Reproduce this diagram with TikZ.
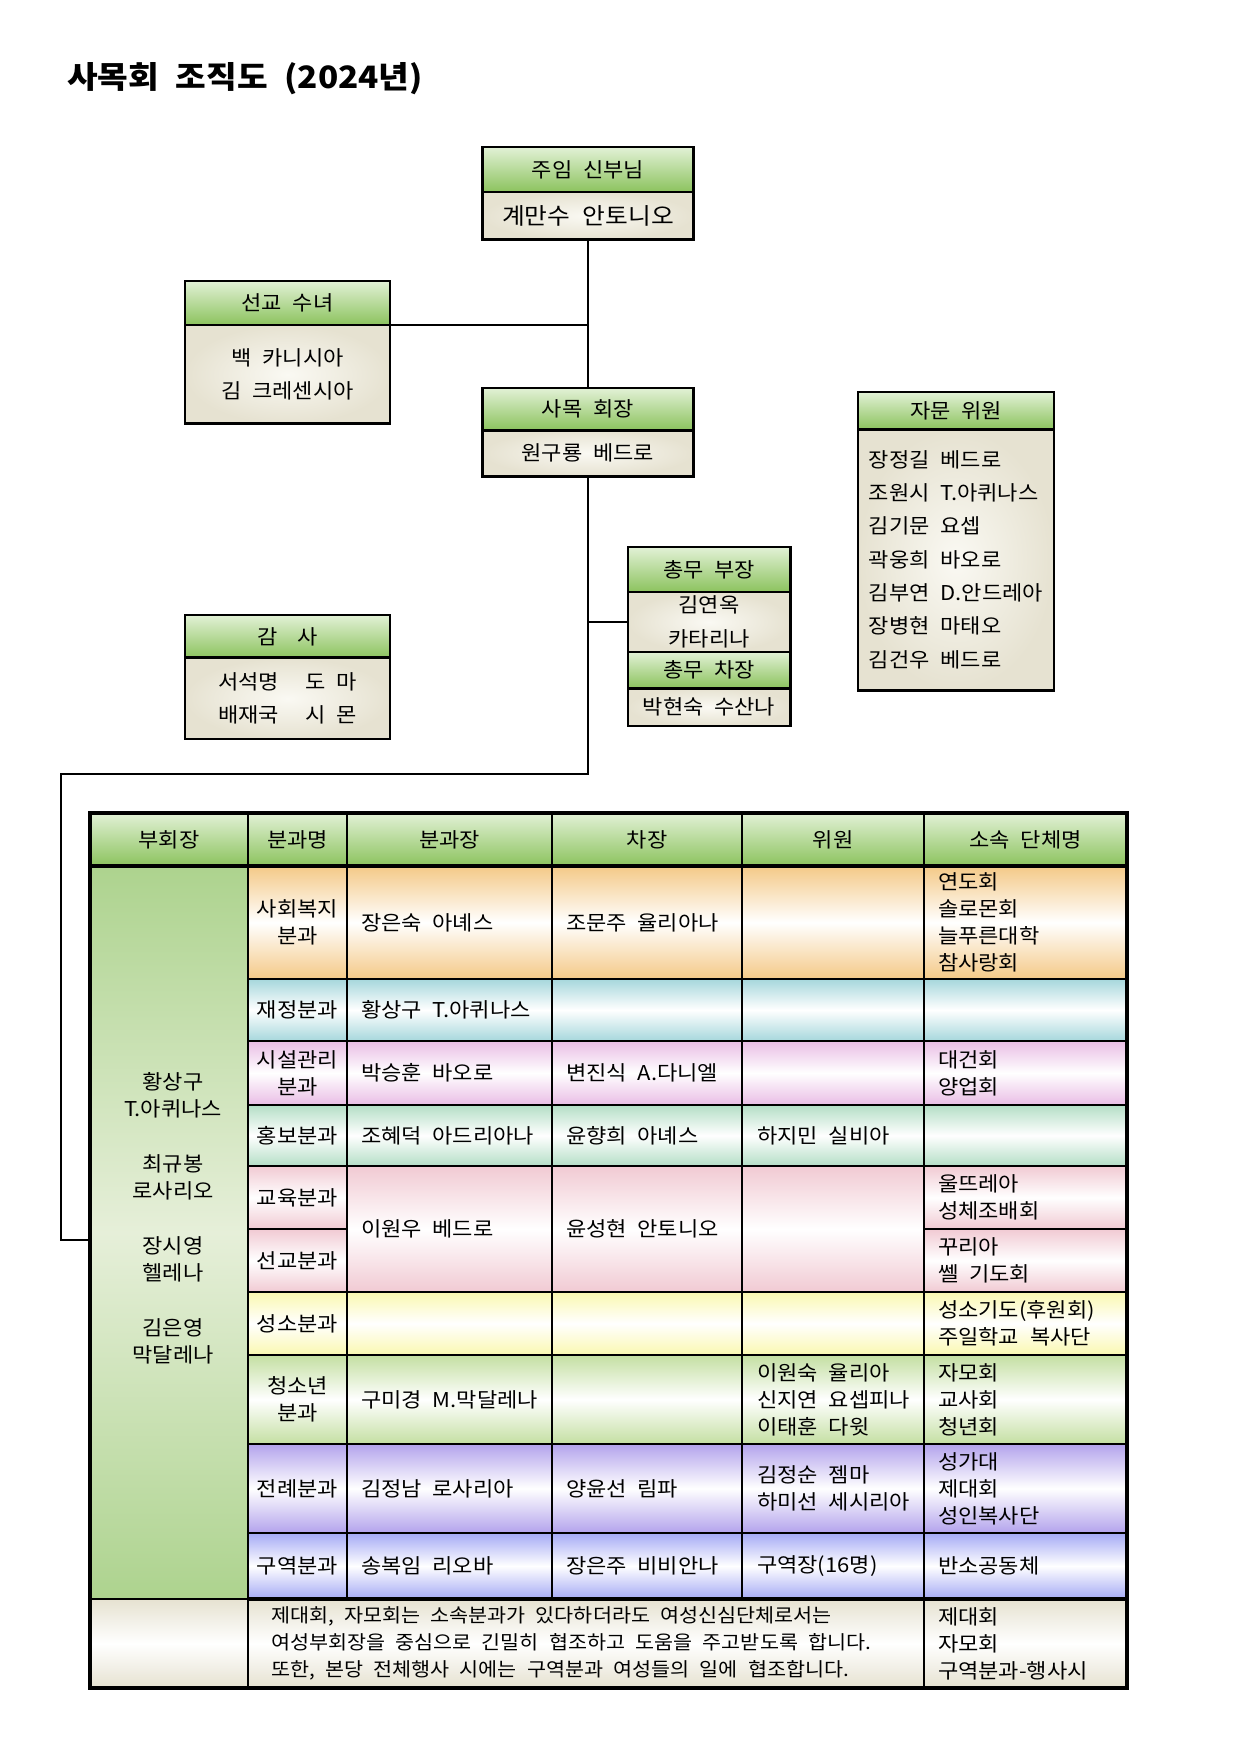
\documentclass[tikz,border=0pt]{standalone}
\usepackage{fontspec}
\setmainfont{Noto Sans CJK KR}[FakeStretch=1.08, WordSpace=2.2]
\usetikzlibrary{chains,positioning}

\definecolor{headtop}{HTML}{E2F1D6}
\definecolor{headbot}{HTML}{8CC35E}
\definecolor{paper}{HTML}{E6E2D1}
\definecolor{paperlight}{HTML}{FAF9F3}
\definecolor{orangerow}{HTML}{F4C987}
\definecolor{cyanrow}{HTML}{A6D7DC}
\definecolor{mauverow}{HTML}{E9BDE5}
\definecolor{mintrow}{HTML}{B4DEC6}
\definecolor{pinkrow}{HTML}{F1CAD3}
\definecolor{yellowrow}{HTML}{FAF8B0}
\definecolor{greenrow}{HTML}{C4DFA2}
\definecolor{purplerow}{HTML}{B3A3EC}
\definecolor{bluerow}{HTML}{A5AAF5}
\definecolor{vicetop}{HTML}{ADD38E}
\definecolor{vicemid}{HTML}{E6EFD9}

\begin{document}
\begin{tikzpicture}[x=0.48pt,y=-0.48pt,node distance=0pt]
\useasboundingbox (0,0) rectangle (1240,1754);
\tikzset{every node/.style={font=\fontsize{9.8}{13}\selectfont, inner sep=1pt, outer sep=0pt},
boxhead/.style={on chain, draw, line width=1.4pt, top color=headtop, bottom color=headbot},
boxbody/.style={on chain, draw, line width=1.4pt, inner color=paperlight, outer color=paper,
align=center, font=\fontsize{9.8}{16}\selectfont},
link/.style={line width=1.4pt},
cell/.style={draw, line width=1.1pt, top color=#1, bottom color=#1, middle color=white},
item/.style={anchor=west, align=left, inner sep=0pt},
mid/.style={align=center, inner sep=0pt}}

\node[anchor=west, font=\fontsize{14.8}{18}\selectfont\bfseries] (Title) at (65,79) {사목회 조직도 (2024년)};

% boxes
\begin{scope}[start chain=going below]
\node[boxhead, anchor=north, minimum width=101.3pt, minimum height=21.6pt] (Pastor head) at (588,147) {주임 신부님};
\node[boxbody, minimum width=101.3pt, minimum height=23pt, font=\fontsize{11}{13}\selectfont] (Pastor body) {계만수 안토니오};
\end{scope}
\begin{scope}[start chain=going below]
\node[boxhead, anchor=north, minimum width=98.4pt, minimum height=21.1pt] (Sister head) at (287.5,281) {선교 수녀};
\node[boxbody, minimum width=98.4pt, minimum height=47.5pt] (Sister body) {백 카니시아\\김 크레센시아};
\end{scope}
\begin{scope}[start chain=going below]
\node[boxhead, anchor=north, minimum width=101.3pt, minimum height=20.2pt] (President head) at (588,388) {사목 회장};
\node[boxbody, minimum width=101.3pt, minimum height=22.1pt] (President body) {원구룡 베드로};
\end{scope}
\begin{scope}[start chain=going below]
\node[boxhead, anchor=north, minimum width=94.1pt, minimum height=17.8pt] (Advisors head) at (956,392) {자문 위원};
\node[boxbody, align=left, minimum width=94.1pt, minimum height=125.3pt] (Advisors body) {장정길 베드로\\조원시 T.아퀴나스\\김기문 요셉\\곽웅희 바오로\\김부연 D.안드레아\\장병현 마태오\\김건우 베드로};
\end{scope}
\begin{scope}[start chain=going below]
\node[boxhead, anchor=north, minimum width=77.8pt, minimum height=21.6pt] (Chongmu head) at (709,547) {총무 부장};
\node[boxbody, minimum width=77.8pt, minimum height=28.8pt] (Chongmu body) {김연옥\\카타리나};
\node[boxhead, minimum width=77.8pt, minimum height=17.3pt] (Chongmu head2) {총무 차장};
\node[boxbody, minimum width=77.8pt, minimum height=18.2pt] (Chongmu body2) {박현숙 수산나};
\end{scope}
\begin{scope}[start chain=going below]
\node[boxhead, anchor=north, minimum width=98.4pt, minimum height=20.6pt] (Audit head) at (287.5,615) {감\quad 사};
\node[boxbody, minimum width=98.4pt, minimum height=38.9pt] (Audit body) {서석명\hspace{1.3em}도\enspace 마\\배재국\hspace{1.3em}시\enspace 몬};
\end{scope}

% table
\path[draw, line width=1.1pt, top color=headtop, bottom color=headbot] (90,813) rectangle (1127,866);
\path[cell=orangerow] (248,866) rectangle (1127,979);
\path[cell=cyanrow] (248,979) rectangle (1127,1041);
\path[cell=mauverow] (248,1041) rectangle (1127,1105);
\path[cell=mintrow] (248,1105) rectangle (1127,1166);
\path[cell=pinkrow] (248,1166) rectangle (347,1229) (924,1166) rectangle (1127,1229);
\path[cell=pinkrow] (248,1229) rectangle (347,1292) (924,1229) rectangle (1127,1292);
\path[cell=pinkrow] (347,1166) rectangle (924,1292);
\path[cell=yellowrow] (248,1292) rectangle (1127,1355);
\path[cell=greenrow] (248,1355) rectangle (1127,1444);
\path[cell=purplerow] (248,1444) rectangle (1127,1533);
\path[cell=bluerow] (248,1533) rectangle (1127,1599);
\path[cell=paper] (90,1599) rectangle (1127,1688);
\node[draw, line width=1.1pt, top color=vicetop, bottom color=vicetop, middle color=vicemid,
minimum width=75.84pt, minimum height=351.84pt] (Vice column) at (169,1232.5) {};
\draw[line width=1.1pt] (248,813) -- (248,1688) (347,813) -- (347,1599) (924,813) -- (924,1688)
(552,813) -- (552,1599) (742,813) -- (742,1599);
\draw[line width=1.5pt] (90,866) -- (1127,866) (248,1599) -- (1127,1599);
\draw[line width=1.5pt] (90,813) rectangle (1127,1688);

% header row
\node (Vice title) at (169,839.5) {부회장};
\node (Dept title) at (297.5,839.5) {분과명};
\node (Chief title) at (449.5,839.5) {분과장};
\node (Deputy title) at (647,839.5) {차장};
\node (Member title) at (833,839.5) {위원};
\node (Groups title) at (1025.5,839.5) {소속 단체명};

\node[mid] (Vice names) at (173,1218.5) {황상구\\T.아퀴나스\\[13.4pt]최규봉\\로사리오\\[13.4pt]장시영\\헬레나\\[13.4pt]김은영\\막달레나};

% departments
\node[mid] (Welfare) at (297.5,922.5) {사회복지\\분과};
\node[mid] (Finance) at (297.5,1010) {재정분과};
\node[mid] (Facilities) at (297.5,1073) {시설관리\\분과};
\node[mid] (Publicity) at (297.5,1135.5) {홍보분과};
\node[mid] (Education) at (297.5,1197.5) {교육분과};
\node[mid] (Mission) at (297.5,1260.5) {선교분과};
\node[mid] (Vocation) at (297.5,1323.5) {성소분과};
\node[mid] (Youth) at (297.5,1399.5) {청소년\\분과};
\node[mid] (Liturgy) at (297.5,1488.5) {전례분과};
\node[mid] (District) at (297.5,1566) {구역분과};

% chiefs
\node[item] (Welfare chief) at (361,922.5) {장은숙 아녜스};
\node[item] (Finance chief) at (361,1010) {황상구 T.아퀴나스};
\node[item] (Facilities chief) at (361,1073) {박승훈 바오로};
\node[item] (Publicity chief) at (361,1135.5) {조혜덕 아드리아나};
\node[item] (Education chief) at (361,1229) {이원우 베드로};
\node[item] (Youth chief) at (361,1399.5) {구미경 M.막달레나};
\node[item] (Liturgy chief) at (361,1488.5) {김정남 로사리아};
\node[item] (District chief) at (361,1566) {송복임 리오바};

% deputies
\node[item] (Welfare deputy) at (566,922.5) {조문주 율리아나};
\node[item] (Facilities deputy) at (566,1073) {변진식 A.다니엘};
\node[item] (Publicity deputy) at (566,1135.5) {윤향희 아녜스};
\node[item] (Education deputy) at (566,1229) {윤성현 안토니오};
\node[item] (Liturgy deputy) at (566,1488.5) {양윤선 림파};
\node[item] (District deputy) at (566,1566) {장은주 비비안나};

% members
\node[item] (Publicity members) at (757,1135.5) {하지민 실비아};
\node[item] (Youth members) at (757,1399.5) {이원숙 율리아\\신지연 요셉피나\\이태훈 다윗};
\node[item] (Liturgy members) at (757,1488.5) {김정순 젬마\\하미선 세시리아};
\node[item] (District members) at (757,1566) {구역장(16명)};

% groups
\node[item] (Welfare groups) at (938,922.5) {연도회\\솔로몬회\\늘푸른대학\\참사랑회};
\node[item] (Facilities groups) at (938,1073) {대건회\\양업회};
\node[item] (Education groups) at (938,1197.5) {울뜨레아\\성체조배회};
\node[item] (Mission groups) at (938,1260.5) {꾸리아\\쎌 기도회};
\node[item] (Vocation groups) at (938,1323.5) {성소기도(후원회)\\주일학교 복사단};
\node[item] (Youth groups) at (938,1399.5) {자모회\\교사회\\청년회};
\node[item] (Liturgy groups) at (938,1488.5) {성가대\\제대회\\성인복사단};
\node[item] (District groups) at (938,1566) {반소공동체};

\node[item, font=\fontsize{9.2}{12.8}\selectfont] (Women note) at (271,1643.5) {제대회, 자모회는 소속분과가 있다하더라도 여성신심단체로서는\\여성부회장을 중심으로 긴밀히 협조하고 도움을 주고받도록 합니다.\\또한, 본당 전체행사 시에는 구역분과 여성들의 일에 협조합니다.};
\node[item] (Women groups) at (938,1643.5) {제대회\\자모회\\구역분과-행사시};

% connectors
\coordinate (Left bend) at (61,774);
\draw[link] (Pastor body.south) -- (President head.north);
\draw[link] (Sister body.north east) -- (Sister body.north east -| Pastor body.south);
\draw[link] (Chongmu body.west) -- (Chongmu body.west -| President body.south);
\draw[link] (President body.south) |- (Left bend) |- ([yshift=-3.6pt]Vice column.west);
\end{tikzpicture}
\end{document}
